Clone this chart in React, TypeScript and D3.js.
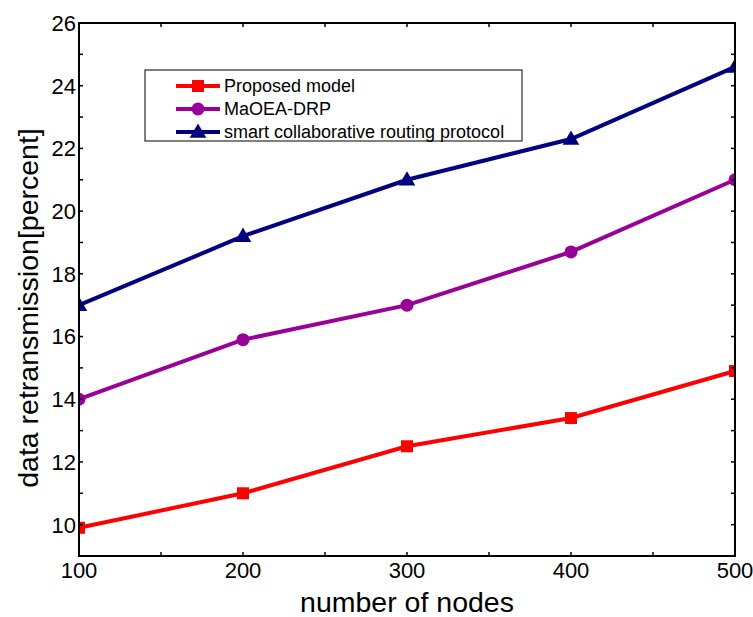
import React from "react";
import * as d3 from "d3";

const nodes = [100, 200, 300, 400, 500];
const proposed = [9.9, 11.0, 12.5, 13.4, 14.9];
const maoea = [14.0, 15.9, 17.0, 18.7, 21.0];
const smart = [17.0, 19.2, 21.0, 22.3, 24.6];
const seriesNames = ["Proposed model", "MaOEA-DRP", "smart collaborative routing protocol"];
const yTicks = [10, 12, 14, 16, 18, 20, 22, 24, 26];
const xTicks = [100, 200, 300, 400, 500];

const W = 753, H = 617;
const L = 79, R = 735, T = 23, B = 556;
const FONT = "'Liberation Sans', Arial, sans-serif";

export default function App() {
  const x = d3.scaleLinear().domain([100, 500]).range([L, R]);
  const y = d3.scaleLinear().domain([9, 26]).range([B, T]);
  const line = d3.line<number>().x((_, i) => x(nodes[i])).y((d) => y(d));
  const colors = ["#ff0000", "#990099", "#000080"];
  const data = [proposed, maoea, smart];
  const minorX = d3.range(100, 501, 50);
  const minorY = d3.range(9, 27, 1);
  const tri = d3.symbol().type(d3.symbolTriangle).size(120)();

  const marker = (k: number, cx: number, cy: number, key: string) => {
    if (k === 0) return <rect key={key} x={cx - 6} y={cy - 6} width={12} height={12} fill={colors[0]} />;
    if (k === 1) return <circle key={key} cx={cx} cy={cy} r={6.5} fill={colors[1]} />;
    return <path key={key} d={tri!} transform={`translate(${cx},${cy + 1})`} fill={colors[2]} />;
  };

  return (
    <svg width={W} height={H} style={{ position: "absolute", left: 0, top: 0, background: "#fff" }} fontFamily={FONT}>
      <defs>
        <clipPath id="clip">
          <rect x={L} y={T} width={R - L} height={B - T} />
        </clipPath>
      </defs>
      {data.map((s, k) => (
        <g key={k}>
          <path d={line(s)!} fill="none" stroke={colors[k]} strokeWidth={4} />
          <g clipPath="url(#clip)">{s.map((v, i) => marker(k, x(nodes[i]), y(v), `${k}-${i}`))}</g>
        </g>
      ))}
      {minorX.map((v) => (
        <g key={"mx" + v}>
          <line x1={x(v)} x2={x(v)} y1={B} y2={B - 4} stroke="#000" strokeWidth={1.5} />
          <line x1={x(v)} x2={x(v)} y1={T} y2={T + 4} stroke="#000" strokeWidth={1.5} />
        </g>
      ))}
      {minorY.map((v) => (
        <g key={"my" + v}>
          <line x1={L} x2={L + 4} y1={y(v)} y2={y(v)} stroke="#000" strokeWidth={1.5} />
          <line x1={R} x2={R - 4} y1={y(v)} y2={y(v)} stroke="#000" strokeWidth={1.5} />
        </g>
      ))}
      <rect x={L} y={T} width={R - L} height={B - T} fill="none" stroke="#000" strokeWidth={2} />
      {yTicks.map((v) => (
        <text key={"yt" + v} x={L - 3} y={y(v)} dy="0.36em" textAnchor="end" fontSize={22} fill="#000">
          {v}
        </text>
      ))}
      {xTicks.map((v) => (
        <text key={"xt" + v} x={x(v)} y={B + 22} textAnchor="middle" fontSize={22} fill="#000">
          {v}
        </text>
      ))}
      <text x={(L + R) / 2} y={612} textAnchor="middle" fontSize={28.5} fill="#000">
        number of nodes
      </text>
      <text transform={`translate(38,308) rotate(-90)`} textAnchor="middle" fontSize={28.5} fill="#000">
        data retransmission[percent]
      </text>
      <rect x={145} y={70} width={377} height={71} fill="#fff" stroke="#000" strokeWidth={1} />
      {seriesNames.map((n, k) => {
        const ly = 86 + k * 23;
        return (
          <g key={"lg" + k}>
            <line x1={176} x2={220} y1={ly} y2={ly} stroke={colors[k]} strokeWidth={4} />
            {marker(k, 198, ly, "lm" + k)}
            <text x={224} y={ly} dy="0.36em" fontSize={18} fill="#000">
              {n}
            </text>
          </g>
        );
      })}
    </svg>
  );
}
